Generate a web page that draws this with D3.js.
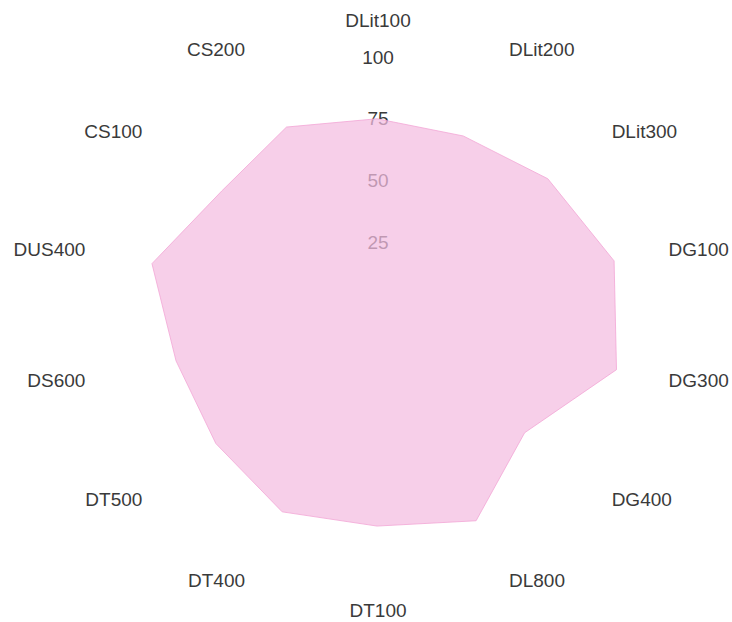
<!DOCTYPE html>
<html lang="en">
<head>
    <meta charset="UTF-8">
    <title>Radar</title>
    <style>
        body { margin: 0; background: #fff; }
        text { font-family: "Liberation Sans", Arial, sans-serif; }
    </style>
</head>
<script src="https://d3js.org/d3.v7.min.js"></script>
<body>
    <div id="chart"></div>
</body>
<script>
const axes = ["DLit100", "DLit200", "DLit300", "DG100", "DG300", "DG400", "DL800",
              "DT100", "DT400", "DT500", "DS600", "DUS400", "CS100", "CS200"]
const values = [75, 76, 84, 94, 95, 72, 88, 81, 84, 79, 79, 89, 76, 80]
const ticks = [25, 50, 75, 100]

const width = 732
const height = 622
const cx = 377
const cy = 315
const labelRadius = 295

const r = d3.scaleLinear().domain([0, 100]).range([11, 258])
const angle = d3.scaleLinear().domain([0, axes.length]).range([0, 2 * Math.PI])

const svg = d3.select("#chart")
            .append("svg")
              .attr("width", width)
              .attr("height", height)
const chart = svg.append("g")
              .attr("transform", `translate(${cx},${cy})`)

// tick labels first, the polygon is drawn over them
chart.append("g")
    .selectAll("text")
    .data(ticks)
    .enter()
    .append("text")
    .attr("x", 1)
    .attr("y", d => -r(d))
    .attr("dy", "0.35em")
    .attr("text-anchor", "middle")
    .attr("font-size", 19)
    .attr("fill", "#3a3a3a")
    .text(d => d)

const line = d3.lineRadial()
    .angle((d, i) => angle(i))
    .radius(d => r(d))
    .curve(d3.curveLinearClosed)

chart.append("path")
    .datum(values)
    .attr("d", line)
    .attr("fill", "#f4bce1")
    .attr("fill-opacity", 0.72)
    .attr("stroke", "#f2a6d6")
    .attr("stroke-width", 0.8)

const anchor = i => {
    const s = Math.sin(angle(i))
    if (Math.abs(s) < 1e-6) return "middle"
    return s > 0 ? "start" : "end"
}

chart.append("g")
    .selectAll("text")
    .data(axes)
    .enter()
    .append("text")
    .attr("x", (d, i) => {
        const s = Math.sin(angle(i))
        return labelRadius * s + (Math.abs(s) < 1e-6 ? 1 : Math.sign(s) * 4)
    })
    .attr("y", (d, i) => -labelRadius * Math.cos(angle(i)))
    .attr("dy", "0.35em")
    .attr("text-anchor", (d, i) => anchor(i))
    .attr("font-size", 19)
    .attr("fill", "#3a3a3a")
    .text(d => d)
</script>
</html>
